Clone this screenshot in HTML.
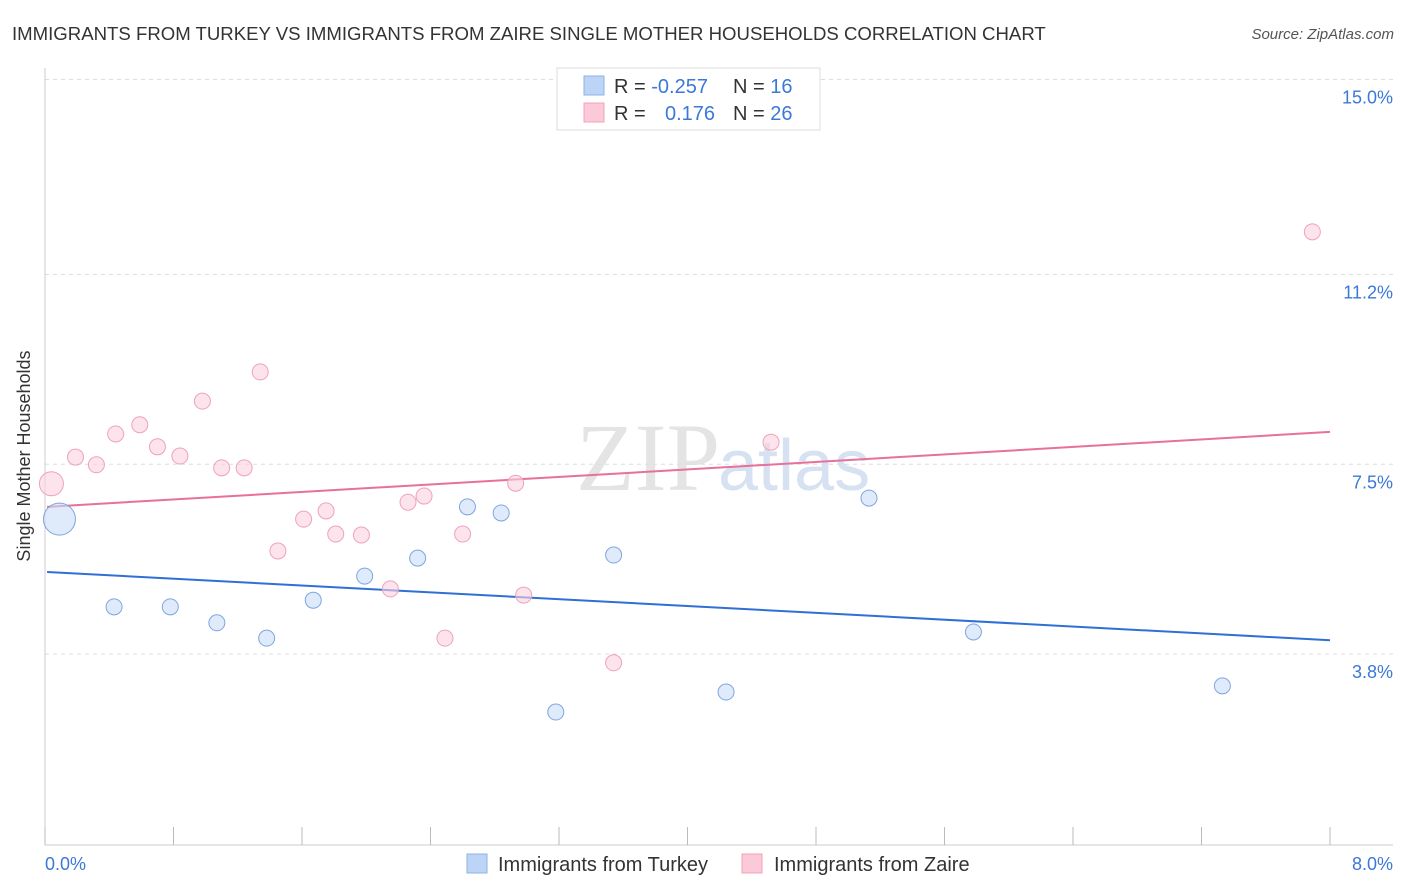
<!DOCTYPE html>
<html><head><meta charset="utf-8"><style>
body{margin:0;background:#fff;font-family:"Liberation Sans",sans-serif;}
svg{display:block}
</style></head><body>
<svg id="chart" width="1406" height="892" font-family="Liberation Sans, sans-serif">
<text x="12" y="40" font-size="18.6" fill="#333">IMMIGRANTS FROM TURKEY VS IMMIGRANTS FROM ZAIRE SINGLE MOTHER HOUSEHOLDS CORRELATION CHART</text>
<text x="1394" y="39" font-size="15" fill="#555" font-style="italic" text-anchor="end">Source: ZipAtlas.com</text>
<text x="720" y="490" font-size="96" fill="#e4e4e4" font-family="Liberation Serif, serif" text-anchor="end">ZIP</text>
<text x="718" y="490" font-size="72" fill="#d6e2f2">atlas</text>
<g id="grid"></g>
<g id="axes"></g>
<g id="lines"></g>
<g id="points"></g>
<text x="30" y="456" font-size="18" fill="#333" text-anchor="middle" transform="rotate(-90 30 456)">Single Mother Households</text>
<text x="45" y="870" font-size="18" fill="#3b78d8">0.0%</text>
<text x="1393" y="870" font-size="18" fill="#3b78d8" text-anchor="end">8.0%</text>
<g>
<rect x="557" y="68" width="263" height="62" fill="#fff" stroke="#ddd"/>
<rect x="584" y="76" width="20" height="19" fill="#bcd4f6" stroke="#8fb2e6"/>
<rect x="584" y="103" width="20" height="19" fill="#fcc9d8" stroke="#f0a3bb"/>
<text x="614" y="93" font-size="20" fill="#333">R = <tspan fill="#3b78d8">-0.257</tspan><tspan x="733">N = </tspan><tspan fill="#3b78d8">16</tspan></text>
<text x="614" y="120" font-size="20" fill="#333">R = <tspan x="665" fill="#3b78d8">0.176</tspan><tspan x="733">N = </tspan><tspan fill="#3b78d8">26</tspan></text>
</g>
<g>
<rect x="467" y="854" width="20" height="19" fill="#bcd4f6" stroke="#8fb2e6"/>
<text x="498" y="871" font-size="20" fill="#333">Immigrants from Turkey</text>
<rect x="742" y="854" width="20" height="19" fill="#fcc9d8" stroke="#f0a3bb"/>
<text x="774" y="871" font-size="20" fill="#333">Immigrants from Zaire</text>
</g>
</svg>
<script>
const yTicks=[15.0,11.2,7.5,3.8];
const yTickLabels=["15.0%","11.2%","7.5%","3.8%"];
const turkeyX=[0.09,0.43,0.78,1.07,1.38,1.67,1.99,2.32,2.63,2.84,3.18,3.54,4.24,5.13,5.78,7.33];
const turkeyY=[6.43,4.72,4.72,4.41,4.11,4.85,5.32,5.67,6.67,6.55,2.67,5.73,3.06,6.84,4.23,3.18];
const turkeyR=[16,8,8,8,8,8,8,8,8,8,8,8,8,8,8,8];
const zaireX=[0.04,0.19,0.32,0.44,0.59,0.70,0.84,0.98,1.10,1.24,1.34,1.45,1.61,1.75,1.81,1.97,2.15,2.26,2.36,2.49,2.60,2.93,2.98,3.54,4.52,7.89];
const zaireY=[7.12,7.64,7.49,8.09,8.27,7.84,7.66,8.73,7.43,7.43,9.30,5.81,6.43,6.59,6.14,6.12,5.07,6.76,6.88,4.11,6.14,7.13,4.95,3.63,7.93,12.03];
const zaireR=[12,8,8,8,8,8,8,8,8,8,8,8,8,8,8,8,8,8,8,8,8,8,8,8,8,8];
const turkeyTrend=[5.40,4.07];
const zaireTrend=[6.67,8.13];
const trendX=[0.013,8.0];
const NS="http://www.w3.org/2000/svg";
const xs=v=>45+v*160.625;
const ys=v=>849-v*51.3;
function mk(tag,attrs,parent){const e=document.createElementNS(NS,tag);for(const k in attrs)e.setAttribute(k,attrs[k]);document.getElementById(parent).appendChild(e);return e;}
yTicks.forEach((t,i)=>{
 const l=mk('line',{x1:45,x2:1393,y1:ys(t),y2:ys(t),stroke:'#ddd','stroke-dasharray':'4,4'},'grid');
 
 
 const tx=mk('text',{x:1393,y:ys(t)+24,'font-size':18,fill:'#3b78d8','text-anchor':'end'},'grid');
 tx.textContent=yTickLabels[i];
 
 
});
const ax=mk('line',{x1:45,x2:45,y1:68,y2:845,stroke:'#ccc'},'axes');


const bx=mk('line',{x1:45,x2:1393,y1:845,y2:845,stroke:'#ccc'},'axes');


for(let i=0;i<=10;i++){
 const t=mk('line',{x1:xs(i*0.8),x2:xs(i*0.8),y1:827,y2:845,stroke:'#bbb'},'axes');
 
 
}
function trend(vals,color,name){
 const l=mk('line',{x1:xs(trendX[0]),x2:xs(trendX[1]),y1:ys(vals[0]),y2:ys(vals[1]),stroke:color,'stroke-width':2},'lines');
 
 
}
trend(turkeyTrend,'#2f6fd6','turkey-trend-line');
trend(zaireTrend,'#e8709a','zaire-trend-line');
function pts(X,Y,R,fill,stroke,name){
 X.forEach((x,i)=>{
  const c=mk('circle',{cx:xs(x),cy:ys(Y[i]),r:R[i],fill:fill,stroke:stroke,'stroke-width':1,'fill-opacity':0.6},'points');
  
  
 });
}
pts(zaireX,zaireY,zaireR,'#fcd0dd','#eea3ba','zaire-point');
pts(turkeyX,turkeyY,turkeyR,'#c9dcf6','#7ea6e0','turkey-point');
</script>
</body></html>
